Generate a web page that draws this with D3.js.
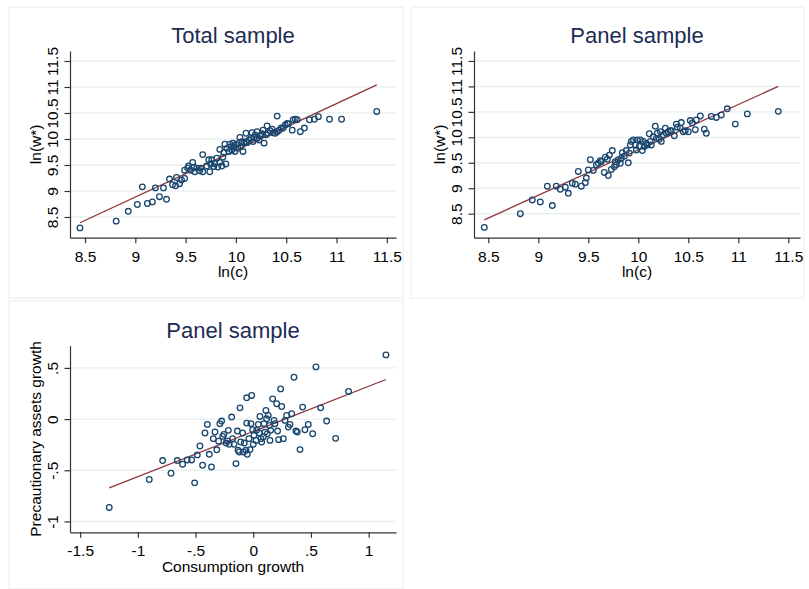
<!DOCTYPE html>
<html>
<head>
<meta charset="utf-8">
<script src="https://cdn.jsdelivr.net/npm/d3@7"></script>
<style>
body { margin: 0; background: #fff; }
svg { display: block; font-family: Arial, "Liberation Sans", sans-serif; }
</style>
</head>
<body>
<script>
// ln(c), ln(w*) pairs - total sample
var totalSample = [
  [8.45,8.29],[8.81,8.42],[8.93,8.61],[9.02,8.74],[9.07,9.08],[9.12,8.76],[9.17,8.79],[9.20,9.06],[9.24,8.89],[9.28,9.06],[9.31,8.84],
  [9.34,9.23],[9.37,9.12],[9.40,9.10],[9.41,9.26],[9.44,9.14],[9.46,9.21],[9.49,9.24],[9.49,9.40],[9.52,9.44],[9.53,9.48],[9.55,9.40],
  [9.57,9.55],[9.58,9.46],[9.59,9.37],[9.61,9.44],[9.64,9.39],[9.65,9.44],[9.67,9.70],[9.67,9.37],[9.71,9.48],[9.73,9.60],[9.74,9.37],
  [9.75,9.52],[9.76,9.60],[9.78,9.47],[9.79,9.53],[9.81,9.63],[9.82,9.46],[9.84,9.55],[9.84,9.80],[9.86,9.48],[9.87,9.65],[9.88,9.74],
  [9.89,9.90],[9.90,9.52],[9.91,9.82],[9.93,9.76],[9.94,9.90],[9.95,9.85],[9.96,9.79],[9.97,9.92],[9.98,9.85],[9.99,9.76],[10.00,9.89],
  [10.02,9.82],[10.03,9.92],[10.04,10.03],[10.05,9.85],[10.06,9.95],[10.07,9.76],[10.08,9.92],[10.10,10.11],[10.10,9.95],[10.11,9.93],
  [10.13,9.98],[10.15,10.01],[10.16,10.12],[10.17,9.95],[10.18,10.03],[10.19,10.08],[10.21,10.14],[10.21,10.01],[10.23,9.98],[10.24,10.06],
  [10.26,10.10],[10.27,10.17],[10.28,9.92],[10.30,10.08],[10.31,10.25],[10.32,10.11],[10.34,10.16],[10.36,10.19],[10.37,10.12],[10.39,10.11],
  [10.41,10.44],[10.41,10.14],[10.43,10.17],[10.45,10.21],[10.47,10.21],[10.49,10.27],[10.51,10.30],[10.52,10.29],[10.56,10.17],[10.57,10.37],
  [10.59,10.38],[10.61,10.37],[10.64,10.14],[10.68,10.21],[10.73,10.37],[10.78,10.38],[10.82,10.43],[10.93,10.38],[11.05,10.38],[11.40,10.53]
];

// ln(c), ln(w*) pairs - panel sample
var panelSample = [
  [8.46,8.23],[8.82,8.50],[8.94,8.77],[9.02,8.73],[9.09,9.04],[9.14,8.66],[9.18,9.04],[9.22,8.98],[9.27,9.02],[9.30,8.90],
  [9.34,9.10],[9.37,9.08],[9.40,9.33],[9.43,9.04],[9.47,9.11],[9.48,9.20],[9.50,9.36],[9.52,9.56],[9.55,9.35],[9.58,9.46],[9.60,9.49],
  [9.62,9.54],[9.63,9.52],[9.66,9.31],[9.67,9.61],[9.69,9.57],[9.70,9.25],[9.71,9.65],[9.73,9.37],[9.74,9.74],[9.76,9.42],[9.77,9.52],
  [9.78,9.46],[9.80,9.56],[9.82,9.49],[9.83,9.59],[9.84,9.70],[9.86,9.63],[9.88,9.74],[9.90,9.50],[9.91,9.69],[9.92,9.85],[9.93,9.92],
  [9.95,9.95],[9.97,9.85],[9.98,9.75],[9.99,9.95],[10.01,9.82],[10.02,9.95],[10.04,9.74],[10.05,9.92],[10.06,9.82],[10.08,9.88],[10.09,9.85],
  [10.11,10.07],[10.12,9.92],[10.13,9.85],[10.15,10.01],[10.17,10.22],[10.18,9.98],[10.19,10.08],[10.21,9.96],[10.22,10.11],[10.23,9.92],
  [10.25,10.05],[10.27,10.18],[10.28,10.08],[10.30,10.11],[10.32,10.13],[10.33,10.13],[10.36,10.03],[10.38,10.26],[10.39,10.20],[10.42,10.18],
  [10.43,10.29],[10.45,10.11],[10.47,10.13],[10.50,10.11],[10.52,10.33],[10.54,10.28],[10.57,10.15],[10.58,10.34],[10.62,10.42],[10.66,10.16],
  [10.68,10.08],[10.73,10.41],[10.78,10.39],[10.83,10.44],[10.89,10.56],[10.97,10.26],[11.09,10.46],[11.40,10.51]
];

// consumption growth, precautionary assets growth pairs - panel sample
var growthSample = [
  [-1.248,-0.863],[-0.901,-0.590],[-0.785,-0.405],[-0.713,-0.529],[-0.658,-0.405],[-0.612,-0.441],[-0.572,-0.399],[-0.534,-0.399],
  [-0.508,-0.623],[-0.485,-0.350],[-0.462,-0.263],[-0.439,-0.451],[-0.418,-0.136],[-0.398,-0.052],[-0.381,-0.344],[-0.362,-0.467],
  [-0.346,-0.191],[-0.332,-0.126],[-0.316,-0.300],[-0.300,-0.216],[-0.289,-0.045],[-0.274,-0.019],[-0.265,-0.169],[-0.254,-0.149],
  [-0.236,-0.234],[-0.225,-0.214],[-0.216,-0.110],[-0.208,-0.247],[-0.187,0.020],[-0.179,-0.191],[-0.167,-0.247],[-0.150,-0.435],
  [-0.138,-0.117],[-0.132,-0.305],[-0.121,-0.321],[-0.115,0.110],[-0.109,-0.224],[-0.092,-0.136],[-0.086,-0.321],[-0.078,-0.234],
  [-0.063,-0.305],[-0.057,0.208],[-0.057,-0.039],[-0.052,-0.344],[-0.037,-0.191],[-0.028,-0.298],[-0.020,-0.045],[-0.014,0.231],
  [-0.005,-0.104],[0.000,-0.247],[0.006,-0.159],[0.024,-0.208],[0.029,-0.110],[0.044,-0.052],[0.052,-0.136],[0.058,0.026],
  [0.067,-0.191],[0.073,-0.224],[0.087,-0.175],[0.093,-0.045],[0.102,-0.127],[0.110,0.085],[0.116,0.003],[0.122,-0.143],
  [0.130,0.036],[0.139,-0.062],[0.145,-0.208],[0.151,-0.110],[0.168,0.198],[0.180,-0.013],[0.188,-0.045],[0.203,0.150],
  [0.211,-0.117],[0.220,-0.201],[0.237,0.295],[0.246,0.123],[0.260,-0.191],[0.275,-0.013],[0.289,0.036],[0.304,-0.078],
  [0.318,-0.052],[0.333,0.052],[0.353,0.409],[0.370,-0.117],[0.382,-0.127],[0.405,-0.298],[0.428,0.117],[0.448,-0.104],
  [0.477,-0.052],[0.515,-0.143],[0.543,0.510],[0.584,0.110],[0.636,-0.019],[0.714,-0.188],[0.826,0.270],[1.150,0.627]
];

// fitted lines: [intercept, slope]
var fitTotal = [0.802, 0.898];
var fitPanel = [0.837, 0.8915];
var fitGrowth = [-0.121, 0.4416];

var lnTicks = [8.5, 9, 9.5, 10, 10.5, 11, 11.5];
var growthXTicks = [-1.5, -1, -0.5, 0, 0.5, 1];
var growthYTicks = [-1, -0.5, 0, 0.5];

var titles = ["Total sample", "Panel sample", "Panel sample"];

var W = 809, H = 589;
var markerColor = "#1a476f", fitColor = "#90353b", gridColor = "#e8eff1";

// Stata style labels: .5, -.5
function stataFmt(v) {
  return String(v).replace(/^(-?)0\./, "$1.");
}

var svg = d3.select("body").append("svg")
    .attr("width", W)
    .attr("height", H);

svg.append("rect").attr("width", W).attr("height", H).attr("fill", "#fff");

// subgraph frames
var frames = [[9, 7, 394, 291], [411, 7, 393, 291], [9, 301, 394, 288]];
frames.forEach(function(f) {
  svg.append("rect")
    .attr("x", f[0]).attr("y", f[1])
    .attr("width", f[2]).attr("height", f[3])
    .attr("fill", "#fff")
    .attr("stroke", "#eef3f4")
    .attr("stroke-width", 1.5);
});

var panels = [
  {data: totalSample, fit: fitTotal, xTicks: lnTicks, yTicks: lnTicks, title: titles[0],
   xTitle: "ln(c)", yTitle: "ln(w*)", dx: 0, dy: 0,
   xDomain: [8.351, 11.591], yDomain: [8.102, 11.692]},
  {data: panelSample, fit: fitPanel, xTicks: lnTicks, yTicks: lnTicks, title: titles[1],
   xTitle: "ln(c)", yTitle: "ln(w*)", dx: 404, dy: 0,
   xDomain: [8.357, 11.617], yDomain: [8.028, 11.696]},
  {data: growthSample, fit: fitGrowth, xTicks: growthXTicks, yTicks: growthYTicks, title: titles[2],
   xTitle: "Consumption growth", yTitle: "Precautionary assets growth", dx: 0, dy: 294.6,
   xDomain: [-1.588, 1.237], yDomain: [-1.106, 0.718]}
];

var plotLeft = 70, plotRight = 396, plotTop = 51, plotBottom = 237.7;

panels.forEach(function(p) {
  var g = svg.append("g")
      .attr("transform", "translate(" + p.dx + "," + p.dy + ")");

  var x = d3.scaleLinear().domain(p.xDomain).range([plotLeft, plotRight]);
  var y = d3.scaleLinear().domain(p.yDomain).range([plotBottom, plotTop]);

  // gridlines
  g.append("g").selectAll("line")
    .data(p.yTicks)
    .enter().append("line")
      .attr("x1", plotLeft).attr("x2", plotRight)
      .attr("y1", function(d) { return y(d); })
      .attr("y2", function(d) { return y(d); })
      .attr("stroke", gridColor)
      .attr("stroke-width", 1.4);

  // fitted line across the data range
  var ext = d3.extent(p.data, function(d) { return d[0]; });
  g.append("line")
    .attr("x1", x(ext[0])).attr("y1", y(p.fit[0] + p.fit[1] * ext[0]))
    .attr("x2", x(ext[1])).attr("y2", y(p.fit[0] + p.fit[1] * ext[1]))
    .attr("stroke", fitColor)
    .attr("stroke-width", 1.3);

  // scatter
  g.append("g").selectAll("circle")
    .data(p.data)
    .enter().append("circle")
      .attr("cx", function(d) { return x(d[0]); })
      .attr("cy", function(d) { return y(d[1]); })
      .attr("r", 2.8)
      .attr("fill", "none")
      .attr("stroke", markerColor)
      .attr("stroke-width", 1.3);

  // x axis
  var xAxis = g.append("g")
      .attr("transform", "translate(0," + plotBottom + ")")
      .call(d3.axisBottom(x).tickValues(p.xTicks).tickFormat(stataFmt).tickSize(5.5).tickSizeOuter(0));
  xAxis.selectAll("text")
      .attr("y", 24).attr("dy", 0)
      .style("font-size", "15.5px")
      .attr("fill", "#000");

  // y axis, labels turned
  var yAxis = g.append("g")
      .attr("transform", "translate(" + plotLeft + ",0)")
      .call(d3.axisLeft(y).tickValues(p.yTicks).tickFormat(stataFmt).tickSize(5.5).tickSizeOuter(0));
  yAxis.selectAll("text")
      .attr("transform", "rotate(-90)")
      .attr("x", 0).attr("y", -11.7).attr("dy", 0)
      .attr("text-anchor", "middle")
      .style("font-size", "15.5px")
      .attr("fill", "#000");

  g.selectAll(".domain, .tick line")
      .attr("stroke", "#333")
      .attr("stroke-width", 1.2);

  // titles
  g.append("text")
    .attr("x", (plotLeft + plotRight) / 2)
    .attr("y", 43)
    .attr("text-anchor", "middle")
    .style("font-size", "22px")
    .attr("fill", "#1c2c54")
    .text(p.title);

  g.append("text")
    .attr("x", (plotLeft + plotRight) / 2)
    .attr("y", 277)
    .attr("text-anchor", "middle")
    .style("font-size", "15.5px")
    .text(p.xTitle);

  g.append("text")
    .attr("transform", "translate(41," + ((plotTop + plotBottom) / 2) + ") rotate(-90)")
    .attr("text-anchor", "middle")
    .style("font-size", "15.5px")
    .text(p.yTitle);
});
</script>
</body>
</html>
